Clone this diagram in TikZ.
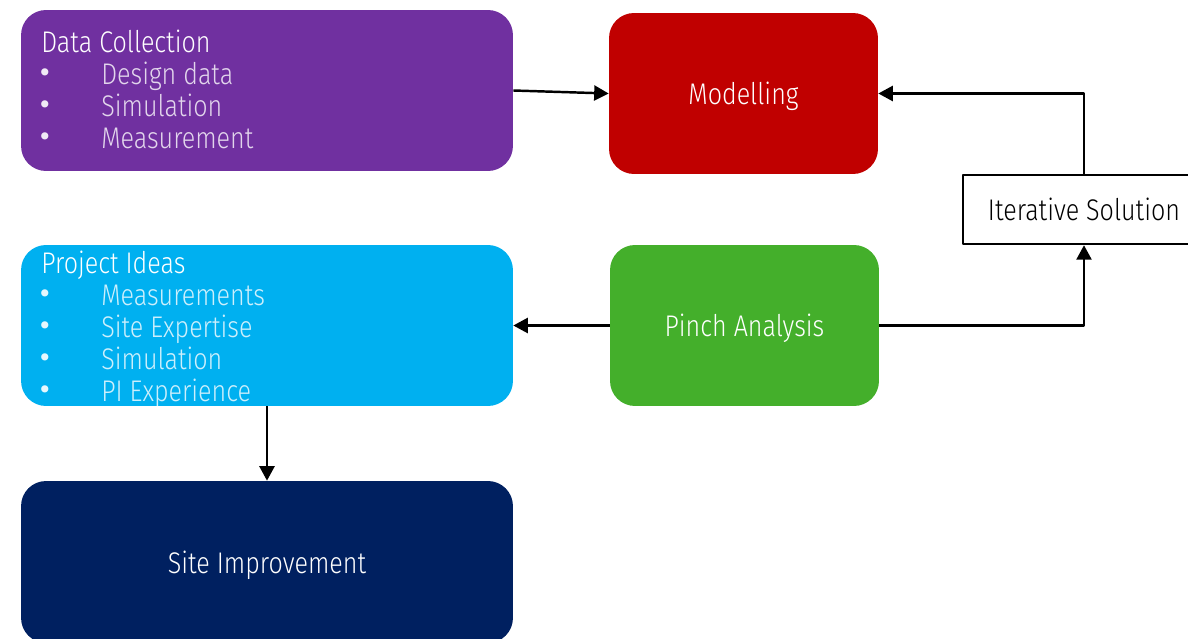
\documentclass[tikz,border=0pt]{standalone}
\usepackage{fontspec}
\setmainfont{Fira Sans Light}[FakeStretch=0.84]
\newfontfamily\bulfont{DejaVu Sans}
\usetikzlibrary{arrows.meta,positioning}
\definecolor{cPurple}{HTML}{7030A0}
\definecolor{cRed}{HTML}{C00000}
\definecolor{cCyan}{HTML}{00B0F0}
\definecolor{cGreen}{HTML}{44AF2B}
\definecolor{cNavy}{HTML}{002060}
\begin{document}
\begin{tikzpicture}[x=0.02cm,y=-0.02cm,line join=round,font=\fontsize{17}{20}\selectfont,
    box/.style={rounded corners=0.5cm,inner sep=0pt,text=white,text depth=0pt},
    conn/.style={line width=1.4pt,-{Triangle[length=0.29cm,width=0.3cm]}},
    item/.style={anchor=base west,inner sep=0pt,text=white,text opacity=0.8},
    bull/.style={inner sep=0pt,text=white,text opacity=0.9,font=\bulfont\fontsize{14}{14}\selectfont}]
    \useasboundingbox (0,0) rectangle (1188,639);
    \clip (0,0) rectangle (1188,639);
    % boxes
    \node[box,fill=cPurple,minimum width=9.84cm,minimum height=3.22cm] (data) at (267,90.5) {};
    \node[box,fill=cRed,minimum width=5.38cm,minimum height=3.22cm] (model) at (743.5,93.5) {Modelling};
    \node[box,fill=cCyan,minimum width=9.84cm,minimum height=3.22cm] (ideas) at (267,325.5) {};
    \node[box,fill=cGreen,minimum width=5.38cm,minimum height=3.22cm] (pinch) at (744.5,325.5) {Pinch Analysis};
    \node[box,fill=cNavy,minimum width=9.84cm,minimum height=3.24cm] (site) at (267,562) {Site Improvement};
    \node[draw,line width=1.4pt,fill=white,minimum width=4.84cm,minimum height=1.38cm,inner sep=0pt,text depth=0pt] (iter) at (1084,209.5) {Iterative Solution};
    % lists
    \node[anchor=base west,inner sep=0pt,text=white] (dtitle) at (41,52) {Data Collection};
    \foreach \t [count=\i] in {Design data,Simulation,Measurement}{
        \node[bull] (db\i) at (45,{43+32*\i}) {•};
        \node[item] (dt\i) at (101,{52+32*\i}) {\t};
    }
    \node[anchor=base west,inner sep=0pt,text=white] (ptitle) at (41,273) {Project Ideas};
    \foreach \t [count=\i] in {Measurements,Site Expertise,Simulation,PI Experience}{
        \node[bull] (pb\i) at (45,{264+32*\i}) {•};
        \node[item] (pt\i) at (101,{273+32*\i}) {\t};
    }
    % connectors
    \draw[conn] (data.east) -- (model.west);
    \draw[conn] (iter.north) |- (model.east);
    \draw[conn] (pinch.east) -| (iter.south);
    \draw[conn] (pinch.west) -- (ideas.east);
    \draw[conn] (ideas.south) -- (site.north);
\end{tikzpicture}
\end{document}
